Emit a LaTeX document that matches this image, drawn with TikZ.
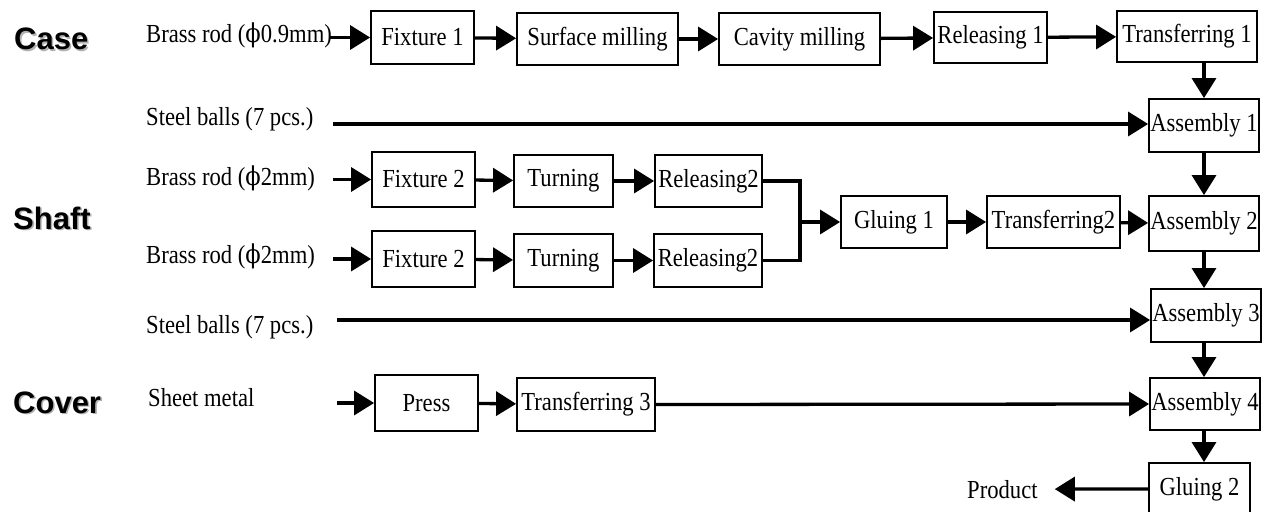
\documentclass[tikz,border=0pt]{standalone}
\usepackage{fontspec}
\usetikzlibrary{
    arrows.meta
}
\newfontfamily\procfont[FakeStretch=0.87]{Liberation Serif}
\newfontfamily\phifont[FakeStretch=0.87]{DejaVu Serif}
\newfontfamily\groupfont{Liberation Sans}
\newcommand{\shadowtext}[1]{\makebox[0pt][l]{\hspace{1.6pt}\raisebox{-1.6pt}{\color{black!30}#1}}#1}
\newcommand{\dia}{{\phifont ϕ}}

\begin{document}
\begin{tikzpicture}[
    x=1pt, y=-1pt,
    stage/.style={
        draw,
        line width=1.8pt,
        inner sep=0pt,
        minimum height=53pt,
        align=center,
        font=\procfont\fontsize{26}{30}\selectfont
    },
    source/.style={
        inner sep=0pt,
        anchor=base west,
        font=\procfont\fontsize{26}{30}\selectfont
    },
    group/.style={
        inner sep=0pt,
        anchor=base west,
        font=\groupfont\bfseries\fontsize{31}{36}\selectfont
    },
    link/.style={line width=3.3pt, -{Triangle[length=20pt, width=24pt]}},
    joint/.style={line width=3.3pt}
]
\useasboundingbox (0,0) rectangle (1265,511);

% part labels
\node[group] (case) at (14,50) {\shadowtext{Case}};
\node[group] (shaft) at (13,229) {\shadowtext{Shaft}};
\node[group] (cover) at (13,413) {\shadowtext{Cover}};

% raw materials
\node[source] (brass1) at (146,43) {Brass rod (\dia0.9mm)};
\node[source] (steel1) at (146,125) {Steel balls (7 pcs.)};
\node[source] (brass2) at (146,185) {Brass rod (\dia2mm)};
\node[source] (brass3) at (146,263) {Brass rod (\dia2mm)};
\node[source] (steel2) at (146,333) {Steel balls (7 pcs.)};
\node[source] (sheet) at (148,406) {Sheet metal};

\coordinate (brassin1) at (330,37.5);
\coordinate (steelin1) at (333,124);
\coordinate (brassin2) at (333,179.5);
\coordinate (brassin3) at (333,259);
\coordinate (steelin2) at (337,320);
\coordinate (sheetin) at (337,403);
\coordinate (merge) at (800,222);

% case line
\node[stage, minimum width=103pt] (fix1) at (422.5,37.5)
{Fixture 1};
\node[stage, minimum width=161pt, minimum height=52pt] (surf) at (597.5,39)
{Surface milling};
\node[stage, minimum width=161pt, minimum height=52pt] (cav) at (799.5,39)
{Cavity milling};
\node[stage, minimum width=113pt, minimum height=51pt] (rel1) at (990.5,37.5)
{Releasing 1};
\node[stage, minimum width=140pt, minimum height=51pt] (tra1) at (1187,36.5)
{Transferring 1};

% shaft lines
\node[stage, minimum width=103pt, minimum height=55pt] (fix2a) at (423.5,179.5)
{Fixture 2};
\node[stage, minimum width=99pt, minimum height=52pt] (turna) at (563.5,181)
{Turning};
\node[stage, minimum width=107pt, minimum height=52pt] (rel2a) at (708.5,181)
{Releasing2};
\node[stage, minimum width=103pt, minimum height=56pt] (fix2b) at (423.5,259)
{Fixture 2};
\node[stage, minimum width=99pt] (turnb) at (563.5,260.5)
{Turning};
\node[stage, minimum width=108pt] (rel2b) at (708,260.5)
{Releasing2};
\node[stage, minimum width=106pt, minimum height=52pt] (glu1) at (894,222)
{Gluing 1};
\node[stage, minimum width=133pt, minimum height=52pt] (tra2) at (1053.5,222)
{Transferring2};

% cover line
\node[stage, minimum width=103pt, minimum height=56pt] (press) at (426.5,403)
{Press};
\node[stage, minimum width=138pt] (tra3) at (586,404.5)
{Transferring 3};

% assembly column
\node[stage, minimum width=110pt] (asm1) at (1204,125.5)
{Assembly 1};
\node[stage, minimum width=110pt, minimum height=55pt] (asm2) at (1204,223.5)
{Assembly 2};
\node[stage, minimum width=110pt] (asm3) at (1206,315.5)
{Assembly 3};
\node[stage, minimum width=110pt, minimum height=52pt] (asm4) at (1205,404)
{Assembly 4};
\node[stage, minimum width=101pt, minimum height=52pt] (glu2) at (1199.5,489)
{Gluing 2};
\node[source] (product) at (967,498) {Product};

\draw[link] (brassin1) -- (fix1.west);
\draw[link] (fix1) -- (surf);
\draw[link] (surf) -- (cav);
\draw[link] (cav) -- (rel1);
\draw[link] (rel1) -- (tra1);
\draw[link] (asm1.north |- tra1.south) -- (asm1.north);
\draw[link] (steelin1) -- (steelin1 -| asm1.west);
\draw[link] (asm1.south) -- (asm1.south |- asm2.north);

\draw[link] (brassin2) -- (fix2a.west);
\draw[link] (fix2a) -- (turna);
\draw[link] (turna) -- (rel2a);
\draw[link] (brassin3) -- (fix2b.west);
\draw[link] (fix2b) -- (turnb);
\draw[link] (turnb) -- (rel2b);
\draw[joint] (rel2a.east) -| (merge) |- (rel2b.east);
\draw[link] (merge) -- (glu1.west);
\draw[link] (glu1) -- (tra2);
\draw[link] (tra2) -- (asm2);
\draw[link] (asm2.south) -- (asm2.south |- asm3.north);
\draw[link] (steelin2) -- (steelin2 -| asm3.west);
\draw[link] (asm3.south -| asm2.south) -- (asm2.south |- asm4.north);

\draw[link] (sheetin) -- (press.west);
\draw[link] (press) -- (tra3);
\draw[link] (tra3.east) -- (asm4.west);
\draw[link] (asm2.south |- asm4.south) -- (asm2.south |- glu2.north);
\draw[link] (glu2.west) -- ([xshift=17pt]product.east);

\end{tikzpicture}
\end{document}
